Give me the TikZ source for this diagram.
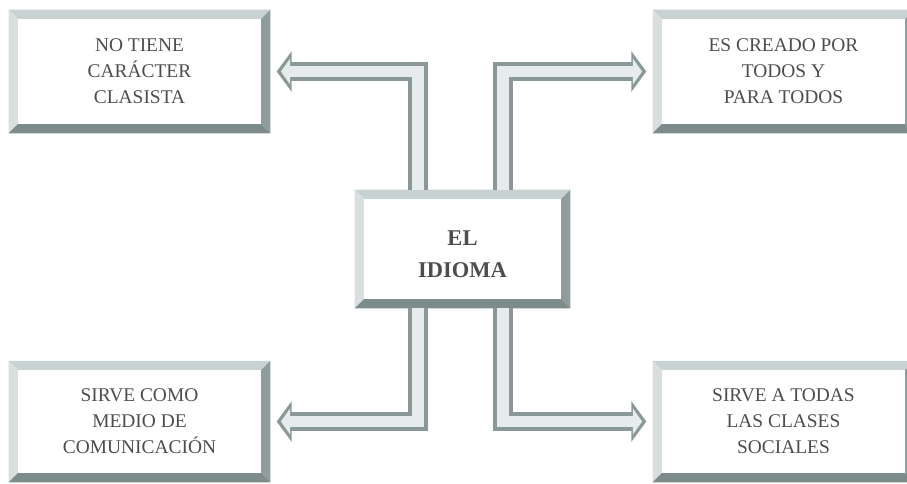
\documentclass[tikz,border=0pt]{standalone}
\usepackage{fontspec}
\setmainfont{Liberation Serif}
\usetikzlibrary{arrows.meta}
\definecolor{bevlight}{HTML}{C9D2D2}
\definecolor{bevdark}{HTML}{8E9C9C}
\definecolor{bevshade}{HTML}{7D8B8B}
\definecolor{pipedark}{HTML}{8A9898}
\definecolor{pipelight}{HTML}{E6ECEC}
\definecolor{txtgray}{HTML}{4D4D4D}
\begin{document}
\begin{tikzpicture}[x=0.025cm, y=-0.025cm,
  idea/.style={fill=white, minimum width=185.7pt, minimum height=87.5pt, inner sep=0pt,
    align=center, text=txtgray, font=\fontsize{13.8}{18.5}\selectfont},
  pipe/.style={draw=pipedark, line width=14.2pt, line join=miter, shorten >=4.5pt,
    -{Triangle[width=28.5pt,length=10.7pt]},
    postaction={draw=pipelight, line width=8pt, line join=miter, shorten >=7.5pt,
      -{Triangle[width=18pt,length=6.5pt]}}}]
  \useasboundingbox (0,0) rectangle (907,483);
  \def\bw{6.5pt}
  % the five boxes
  \node[idea] (clasista) at (139.5,71.5) {NO TIENE\\CARÁCTER\\CLASISTA};
  \node[idea] (creado) at (783.5,71.5) {ES CREADO POR\\TODOS Y\\PARA TODOS};
  \node[idea, minimum width=153pt, minimum height=84pt,
    font=\bfseries\fontsize{16}{22.8}\selectfont] (idioma) at (462.5,249) {\mbox{}\\[-5pt]EL\\IDIOMA};
  \node[idea, minimum height=86pt] (medio) at (139.5,421.5) {SIRVE COMO\\MEDIO DE\\COMUNICACIÓN};
  \node[idea, minimum height=86pt] (clases) at (783.5,421.5) {SIRVE A TODAS\\LAS CLASES\\SOCIALES};
  % bevelled frames
  \foreach \n in {clasista,creado,idioma,medio,clases} {
    % top and left faces
    \fill[bevlight] (\n.north west) -- (\n.north east) -- ([shift={(-\bw,-\bw)}]\n.north east) -- ([shift={(\bw,-\bw)}]\n.north west) -- cycle;
    \fill[bevlight!70!white] (\n.north west) -- ([shift={(\bw,-\bw)}]\n.north west) -- ([shift={(\bw,\bw)}]\n.south west) -- (\n.south west) -- cycle;
    % right and bottom faces
    \fill[bevdark] (\n.north east) -- (\n.south east) -- ([shift={(-\bw,\bw)}]\n.south east) -- ([shift={(-\bw,-\bw)}]\n.north east) -- cycle;
    \fill[bevshade] (\n.south west) -- (\n.south east) -- ([shift={(-\bw,\bw)}]\n.south east) -- ([shift={(\bw,\bw)}]\n.south west) -- cycle;
  }
  % elbow arrows out of the centre box
  \draw[pipe] ([xshift=-31.7pt]idioma.north) |- (clasista.east);
  \draw[pipe] ([xshift=28.8pt]idioma.north) |- (creado.west);
  \draw[pipe] ([xshift=-31.7pt]idioma.south) |- (medio.east);
  \draw[pipe] ([xshift=28.8pt]idioma.south) |- (clases.west);
\end{tikzpicture}
\end{document}
